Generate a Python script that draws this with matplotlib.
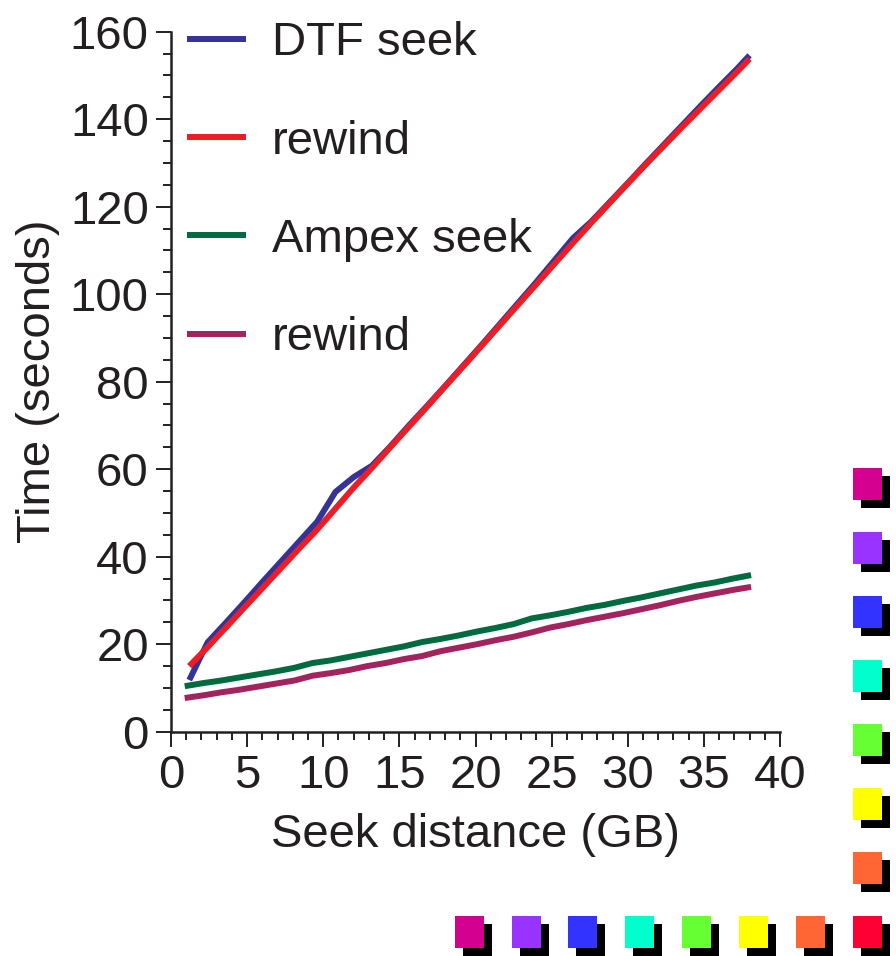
import matplotlib
matplotlib.use('Agg')
from matplotlib import pyplot as plt
from matplotlib.patches import Rectangle
from matplotlib.ticker import MultipleLocator

plt.rcParams['font.family'] = ['Liberation Sans', 'DejaVu Sans']

# --- data ---
dtf_x = [1.2, 2.4, 3.6, 4.8, 6.0, 7.2, 8.4, 9.6, 10.8, 12.0, 13.2, 14.4, 15.6, 16.8, 18.0, 19.2,
         20.4, 21.6, 22.8, 24.0, 25.2, 26.4, 27.6, 28.8, 30.0, 31.2, 32.4, 33.6, 34.8, 36.0, 37.2, 38.0]
dtf_seek = [11.8, 20.4, 24.9, 29.5, 34.2, 38.8, 43.4, 48.0, 54.8, 58.2, 60.8, 65.2, 69.9, 74.4, 79.0, 83.7,
            88.4, 93.2, 98.0, 102.8, 107.8, 112.8, 116.6, 121.0, 125.4, 129.9, 134.3, 138.7, 143.1, 147.4, 151.6, 154.6]
dtf_rewind = [15.0, 19.3, 23.8, 28.3, 32.8, 37.3, 41.8, 46.2, 51.0, 55.8, 60.3, 65.0, 69.6, 74.2, 78.9, 83.5,
              88.2, 92.9, 97.6, 102.3, 107.0, 111.7, 116.3, 120.8, 125.3, 129.7, 134.0, 138.3, 142.5, 146.7, 150.9, 153.8]

ampex_x = [0.9, 2.1, 3.3, 4.5, 5.7, 6.9, 8.1, 9.3, 10.5, 11.7, 12.9, 14.1, 15.3, 16.5, 17.7, 18.9,
           20.1, 21.3, 22.5, 23.7, 24.9, 26.1, 27.3, 28.5, 29.7, 30.9, 32.1, 33.3, 34.5, 35.7, 36.9, 38.1]
ampex_seek = [10.4, 11.1, 11.7, 12.4, 13.1, 13.8, 14.6, 15.7, 16.3, 17.1, 17.9, 18.7, 19.5, 20.5, 21.2, 22.0,
              22.9, 23.7, 24.6, 25.9, 26.6, 27.4, 28.3, 29.0, 29.9, 30.7, 31.6, 32.5, 33.4, 34.1, 35.0, 35.8]
ampex_rewind = [7.7, 8.3, 9.0, 9.6, 10.3, 11.0, 11.7, 12.8, 13.4, 14.1, 15.0, 15.7, 16.6, 17.3, 18.4, 19.2,
                20.0, 20.9, 21.7, 22.7, 23.8, 24.6, 25.5, 26.3, 27.1, 28.0, 28.9, 29.9, 30.8, 31.6, 32.4, 33.1]

labels = ['DTF seek', 'rewind', 'Ampex seek', 'rewind']
swatch_colors = ['#d4008f', '#9933ff', '#3333ff', '#00ffcc', '#66ff33', '#ffff00', '#ff6633', '#ff0033']

text_color = '#231f20'
W, H = 896, 956
fs = 34

fig = plt.figure(figsize=(W / 100, H / 100), dpi=100)
ax = fig.add_axes([171 / W, 1 - 731.7 / H, 609 / W, 700 / H])

lw = 4.3
ax.plot(dtf_x, dtf_seek, color='#333399', lw=lw, label=labels[0], solid_capstyle='butt')
ax.plot(dtf_x, dtf_rewind, color='#ee1c24', lw=lw, label=labels[1], solid_capstyle='butt')
ax.plot(ampex_x, ampex_seek, color='#006b3f', lw=lw, label=labels[2], solid_capstyle='butt')
ax.plot(ampex_x, ampex_rewind, color='#a3235f', lw=lw, label=labels[3], solid_capstyle='butt')

ax.set_xlim(0, 40)
ax.set_ylim(0, 160)
ax.xaxis.set_major_locator(MultipleLocator(5))
ax.xaxis.set_minor_locator(MultipleLocator(1))
ax.yaxis.set_major_locator(MultipleLocator(20))
ax.yaxis.set_minor_locator(MultipleLocator(5))

for s in ['top', 'right']:
    ax.spines[s].set_visible(False)
for s in ['left', 'bottom']:
    ax.spines[s].set_linewidth(1.8)
    ax.spines[s].set_color(text_color)

ax.tick_params(which='major', direction='out', length=11, width=1.4, color=text_color,
               labelsize=fs, labelcolor=text_color, pad=5)
ax.tick_params(which='minor', direction='out', length=5.8, width=1.4, color=text_color)

ax.set_xlabel('Seek distance (GB)', fontsize=fs, color=text_color, labelpad=11)
ax.set_ylabel('Time (seconds)', fontsize=fs, color=text_color, labelpad=7)

leg = ax.legend(loc='upper left', bbox_to_anchor=(0.026, 1.015), frameon=False, fontsize=fs,
                handlelength=1.25, handletextpad=0.55, labelspacing=1.15,
                borderpad=0, borderaxespad=0)
for t in leg.get_texts():
    t.set_color(text_color)

# decorative colour swatches with drop shadows
sw, sh, off = 29, 32, 8
col_tops = [468, 532, 596, 660, 724, 788, 852, 916]
row_lefts = [455, 512, 568, 625, 682, 739, 796, 853]
boxes = [(853, t, c) for t, c in zip(col_tops, swatch_colors)]
boxes += [(l, 916, c) for l, c in zip(row_lefts[:-1], swatch_colors[:-1])]
for x0, y0, c in boxes:
    fig.add_artist(Rectangle(((x0 + off) / W, 1 - (y0 + off + sh) / H), sw / W, sh / H,
                             transform=fig.transFigure, facecolor='black', edgecolor='none'))
    fig.add_artist(Rectangle((x0 / W, 1 - (y0 + sh) / H), sw / W, sh / H,
                             transform=fig.transFigure, facecolor=c, edgecolor='none'))

fig.savefig('out.png', dpi=100)
